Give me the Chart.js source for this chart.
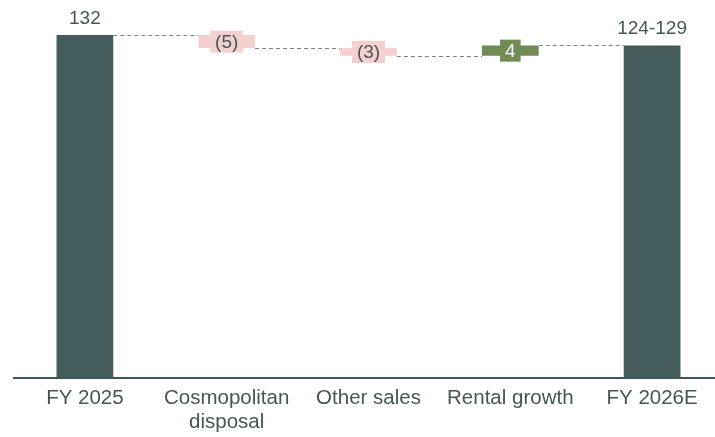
<!DOCTYPE html>
<html>
<head>
<meta charset="utf-8">
<title>FY 2026E bridge</title>
<script src="https://cdn.jsdelivr.net/npm/chart.js@4.4.1/dist/chart.umd.min.js"></script>
<style>
  html, body { margin: 0; padding: 0; background: #fff; overflow: hidden; }
  #wrap { width: 723px; height: 437px; position: relative; }
</style>
</head>
<body>
<div id="wrap"><canvas id="bridge"></canvas></div>
<script>
/* ---- Data ---- */
const categories = [['FY 2025'], ['Cosmopolitan', 'disposal'], ['Other sales'], ['Rental growth'], ['FY 2026E']];
const steps = [132, -5, -3, 4];          // opening value, then movements
const isTotal = [true, false, false, false, true];
const valueLabels = ['132', '(5)', '(3)', '4', '124-129'];

/* ---- Colours ---- */
const DARK = '#445d5c';
const PINK = '#f4d0d1';
const GREEN = '#718b55';
const TEXT = '#465656';
const FONT = '"Liberation Sans", Arial, sans-serif';

// turn the steps into floating [from, to] ranges, closing with the running total
const ranges = [];
let running = 0;
steps.forEach((s, i) => {
  if (i === 0) { ranges.push([0, s]); running = s; return; }
  ranges.push([running, running + s]);
  running += s;
});
ranges.push([0, running]);

const barColors = ranges.map((r, i) => isTotal[i] ? DARK : (r[1] < r[0] ? PINK : GREEN));

/* ---- Connectors + value labels ---- */
const bridgePlugin = {
  id: 'bridge',
  afterDatasetsDraw(chart) {
    const { ctx } = chart;
    const meta = chart.getDatasetMeta(0);
    const y = chart.scales.y;

    // dashed links between neighbouring bars
    ctx.save();
    ctx.strokeStyle = '#808080';
    ctx.lineWidth = 1;
    ctx.setLineDash([4, 3]);
    for (let i = 0; i < meta.data.length - 1; i++) {
      const a = meta.data[i], b = meta.data[i + 1];
      const level = Math.round(y.getPixelForValue(ranges[i][1])) + 0.5;
      ctx.beginPath();
      ctx.moveTo(a.x + a.width / 2, level);
      ctx.lineTo(b.x - b.width / 2, level);
      ctx.stroke();
    }
    ctx.restore();

    ctx.save();
    ctx.font = '19px ' + FONT;
    ctx.textAlign = 'center';
    meta.data.forEach((bar, i) => {
      const txt = valueLabels[i];
      if (isTotal[i]) {
        ctx.fillStyle = TEXT;
        ctx.textBaseline = 'alphabetic';
        ctx.fillText(txt, bar.x, Math.min(bar.y, bar.base) - 11);
        return;
      }
      // label sits on a box of the bar colour
      const cy = (bar.y + bar.base) / 2;
      const w = ctx.measureText(txt).width + 10;
      const h = 22;
      ctx.fillStyle = barColors[i];
      ctx.fillRect(bar.x - w / 2, cy - h / 2, w, h);
      ctx.fillStyle = barColors[i] === GREEN ? '#ffffff' : TEXT;
      ctx.textBaseline = 'middle';
      ctx.fillText(txt, bar.x, cy + 1);
    });
    ctx.restore();
  }
};

new Chart(document.getElementById('bridge'), {
  type: 'bar',
  data: {
    labels: categories,
    datasets: [{
      data: ranges,
      backgroundColor: barColors,
      borderWidth: 0,
      borderSkipped: false,
      barPercentage: 0.8,
      categoryPercentage: 0.5
    }]
  },
  options: {
    responsive: true,
    maintainAspectRatio: false,
    animation: false,
    layout: { padding: { left: 14, right: 0, top: 0, bottom: 0 } },
    plugins: { legend: { display: false }, tooltip: { enabled: false } },
    scales: {
      x: {
        grid: { display: false, drawTicks: false },
        border: { display: true, color: '#3f5756', width: 2 },
        ticks: {
          color: TEXT,
          padding: 8,
          autoSkip: false,
          maxRotation: 0,
          font: { family: FONT, size: 20.5, lineHeight: 1.17 }
        },
        afterFit(scale) { scale.height = 59; }
      },
      y: {
        display: false,
        min: 0,
        max: 145.5
      }
    }
  },
  plugins: [bridgePlugin]
});
</script>
</body>
</html>
